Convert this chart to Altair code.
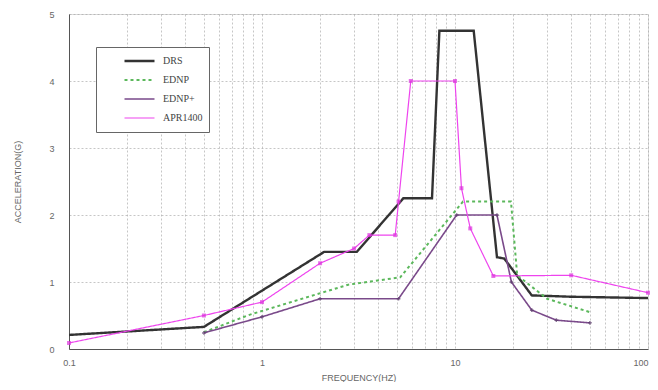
import altair as alt
import pandas as pd

series_names = ["DRS", "EDNP", "EDNP+", "APR1400"]
series_colors = ["#333333", "#5cb85c", "#7a4a8a", "#ee44ee"]
series_dash = [[1, 0], [3, 3], [1, 0], [1, 0]]
series_width = [2.4, 1.2, 1.0, 1.4]

drs_f = [0.1, 0.5, 2.1, 3.1, 5.4, 7.6, 8.3, 12.5, 16.5, 18.0, 25.0, 40.0, 100.0]
drs_a = [0.21, 0.33, 1.45, 1.45, 2.25, 2.25, 4.75, 4.75, 1.37, 1.35, 0.80, 0.78, 0.76]

ednp_f = [0.5, 0.86, 2.8, 5.2, 11.0, 19.5, 21.0, 30.0, 50.0]
ednp_a = [0.25, 0.51, 0.96, 1.07, 2.2, 2.2, 1.1, 0.75, 0.55]

ednpp_f = [0.5, 1.0, 2.0, 5.1, 10.2, 16.5, 19.6, 25.0, 33.5, 50.0]
ednpp_a = [0.24, 0.48, 0.75, 0.75, 2.0, 2.0, 1.0, 0.58, 0.43, 0.39]

apr_f = [0.1, 0.5, 1.0, 2.0, 3.0, 3.6, 4.9, 5.1, 5.9, 10.0, 10.8, 12.0, 15.8, 40.0, 100.0]
apr_a = [0.09, 0.5, 0.7, 1.28, 1.5, 1.7, 1.7, 2.2, 4.0, 4.0, 2.4, 1.8, 1.09, 1.1, 0.84]

x_ticks = [0.1, 0.2, 0.3, 0.4, 0.5, 0.6, 0.7, 0.8, 0.9, 1, 2, 3, 4, 5, 6, 7, 8, 9,
           10, 20, 30, 40, 50, 60, 70, 80, 90, 100]
y_ticks = [0, 0.5, 1, 1.5, 2, 2.5, 3, 3.5, 4, 4.5, 5]

rows = []
for name, fs, accs in [("DRS", drs_f, drs_a), ("EDNP", ednp_f, ednp_a),
                       ("EDNP+", ednpp_f, ednpp_a), ("APR1400", apr_f, apr_a)]:
    for i, (f, a) in enumerate(zip(fs, accs)):
        rows.append({"series": name, "f": f, "a": a, "order": i})
df = pd.DataFrame(rows)

xs = alt.Scale(type="log", domain=[0.1, 100], nice=False)
ys = alt.Scale(domain=[0, 5], nice=False)

xaxis = alt.Axis(values=x_ticks, title="FREQUENCY(HZ)",
                 labelExpr="(datum.value==0.1||datum.value==1||datum.value==10||datum.value==100) ? datum.value : ''",
                 labelAlign={"condition": {"test": "datum.value >= 100", "value": "right"}, "value": "center"},
                 grid=True, gridDash=[2, 2], gridColor="#a0a0a0", gridOpacity=0.6,
                 ticks=False, labelPadding=9, titlePadding=6,
                 labelFontSize=9, titleFontSize=9, labelColor="#666", titleColor="#666",
                 titleFontWeight="normal", labelFont="Liberation Sans", titleFont="Liberation Sans",
                 domainColor="#555", labelFlush=False)
yaxis = alt.Axis(values=y_ticks, title="ACCELERATION(G)", format="~g",
                 grid=True, gridDash=[2, 2], gridColor="#a0a0a0", gridOpacity=0.6,
                 ticks=False, labelPadding=15, titlePadding=26,
                 labelFontSize=9, titleFontSize=9, labelColor="#666", titleColor="#666",
                 titleFontWeight="normal", labelFont="Liberation Sans", titleFont="Liberation Sans",
                 domainColor="#555")

pad_text = "\u00a0" * 18


def leg():
    return alt.Legend(title=None, orient="none", legendX=27, legendY=33,
                      symbolType="stroke", symbolSize=900, symbolOffset=21,
                      clipHeight=16, rowPadding=3,
                      strokeColor="#666", fillColor="white", padding=6,
                      labelFontSize=10, labelColor="#444", labelFont="Liberation Serif",
                      labelExpr="datum.label + '" + pad_text + "'", labelLimit=300,
                      labelOffset=7, cornerRadius=0)


lines = alt.Chart(df).mark_line(clip=True).encode(
    x=alt.X("f:Q", scale=xs, axis=xaxis),
    y=alt.Y("a:Q", scale=ys, axis=yaxis),
    order="order:Q",
    color=alt.Color("series:N", scale=alt.Scale(domain=series_names, range=series_colors),
                    sort=series_names, legend=leg()),
    strokeDash=alt.StrokeDash("series:N", scale=alt.Scale(domain=series_names, range=series_dash),
                              sort=series_names, legend=leg()),
    strokeWidth=alt.StrokeWidth("series:N", scale=alt.Scale(domain=series_names, range=series_width),
                                sort=series_names, legend=leg()),
)

pts_ednpp = alt.Chart(df[df.series == "EDNP+"]).mark_point(shape="cross", size=14, filled=True,
                                                            color="#5a3a6a").encode(
    x=alt.X("f:Q", scale=xs), y=alt.Y("a:Q", scale=ys))
pts_apr = alt.Chart(df[df.series == "APR1400"]).mark_point(shape="square", size=16, filled=True,
                                                            color="#dd33dd").encode(
    x=alt.X("f:Q", scale=xs), y=alt.Y("a:Q", scale=ys))

chart = alt.layer(lines, pts_ednpp, pts_apr).properties(
    width=579, height=335,
    autosize=alt.AutoSizeParams(type="none"),
    padding={"left": 61, "top": 6, "right": 2, "bottom": 33},
).configure_view(stroke="#bbbbbb").configure(background="white")

chart.save("out.html", embed_options={"renderer": "svg", "actions": False})
